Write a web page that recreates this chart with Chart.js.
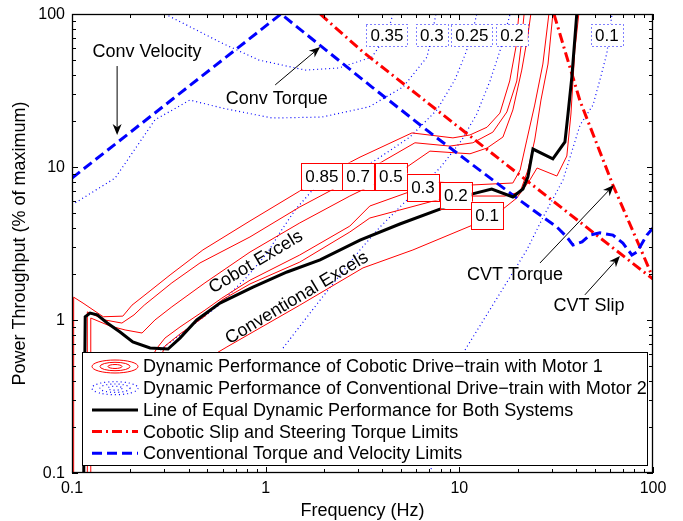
<!DOCTYPE html>
<html>
<head>
<meta charset="utf-8">
<script src="https://cdn.jsdelivr.net/npm/chart.js@4.4.1/dist/chart.umd.min.js"></script>
<style>
  html, body { margin: 0; padding: 0; background: #fff; }
  #wrap { width: 683px; height: 521px; }
</style>
</head>
<body>
<div id="wrap"><canvas id="chart" width="683" height="521"></canvas></div>
<script>
// all points are [frequency (Hz), power throughput (% of maximum)]

// line of equal dynamic performance
const equalLine = [[0.115,0.1],[0.117,1.05],[0.124,1.11],[0.135,1.08],[0.152,0.956],[0.177,0.835],
  [0.206,0.718],[0.253,0.656],[0.313,0.646],[0.361,0.762],[0.441,1.0],[0.581,1.29],[0.86,1.64],
  [1.29,2.06],[1.91,2.47],[3.07,3.33],[4.93,4.24],[7.94,5.31],[11.7,6.67],[14.7,7.18],[18.9,6.37],
  [21.3,7.18],[22.6,8.61],[24.0,13.1],[30.4,11.3],[35.1,14.6],[36.4,22.2],[38.1,38.7],[40.4,100]];

// conventional torque and velocity limits
const convLimit = [[0.1,8.47],[1.2,100],[3.54,33.3],[7.31,16.2],[11.4,10.6],[20.1,6.18],[26.1,4.85],
  [31.9,4.05],[35.9,3.49],[38.6,3.09],[43.0,3.24],[47.2,3.59],[53.2,3.71],[62.1,3.59],[69.9,3.18],
  [77.8,2.66],[82.6,2.78],[93,3.59],[100,3.99]];

// cobotic (CVT) slip and steering torque limits
const slipLimit = [[1.91,100],[3.18,56.5],[18.7,9.7],[100,1.85]];
const torqueLimit = [[30.8,100],[42.0,27.0],[62.1,7.62],[85.5,3.0],[100,1.88]];

// cobotic drive-train contours (motor 1)
const cobotLevels = ['0.85', '0.7', '0.5', '0.3', '0.2', '0.1'];
const cobot085 = [[0.102,0.1],[0.102,1.41],[0.114,1.29],[0.145,1.05],[0.183,1.06],[0.204,1.25],[0.253,1.55],
  [0.321,1.97],[0.474,2.87],[0.83,4.44],[1.5,6.97],[1.95,8.61],[3.07,11.6],[5.69,16.7],[9.27,15.5],
  [11.35,16.2],[13.9,18.2],[16.2,22.5],[18.2,36.5],[19.6,60.8],[20.3,100]];
const cobot07 = [[0.12,0.1],[0.12,1.13],[0.148,1.0],[0.181,0.955],[0.209,1.08],[0.236,1.25],[0.328,1.75],
  [0.458,2.36],[0.83,3.49],[1.5,5.48],[3.0,8.73],[4.13,11.1],[5.9,14.4],[8.94,13.7],[11.75,14.4],
  [14.9,16.9],[17.6,22.9],[19.8,36.5],[20.8,60.8],[21.6,100]];
const cobot05 = [[0.124,0.1],[0.125,1.03],[0.157,0.914],[0.188,0.861],[0.23,0.822],[0.268,1.0],[0.328,1.22],
  [0.486,1.75],[0.83,2.78],[1.5,4.31],[2.72,6.46],[4.43,8.73],[5.36,10],[7.05,12.7],[11.35,12.2],
  [13.9,13.3],[16.8,15.7],[18.9,23.6],[21.0,43.0],[22.6,72.9],[23.4,100]];
const cobot03 = [[0.253,0.548],[0.275,0.656],[0.302,0.762],[0.361,0.90],[0.486,1.16],[0.594,1.39],[0.83,1.82],
  [1.5,2.66],[2.72,4.11],[3.45,5.56],[6.49,7.40],[7.94,7.98],[11.35,7.62],[18.9,7.86],[20.6,9.55],
  [22.3,15.0],[24.5,25.4],[27.0,47.1],[29.0,100]];
const cobot02 = [[0.284,0.548],[0.302,0.676],[0.361,0.81],[0.486,1.06],[0.594,1.35],[0.83,1.72],[1.5,2.39],
  [2.72,3.76],[3.45,4.64],[8.04,6.18],[11.35,6.46],[17.2,6.46],[20.6,6.87],[22.6,9.55],[24.5,15.0],
  [26.4,27.4],[28.7,47.1],[30.4,100]];
const cobot01 = [[0.486,0.548],[0.631,0.667],[1.5,1.25],[3.18,2.19],[5.76,2.87],[11.75,4.18],[16.8,5.31],
  [19.8,6.27],[23.1,8.2],[25.2,9.85],[31.9,8.73],[35.9,11.8],[37.7,22.2],[39.5,58.2],[41.4,100]];
const cobotLabelF = [1.95, 3.0, 4.43, 6.49, 9.6, 13.9];
const cobotLabelP = [8.73, 8.73, 8.73, 7.40, 6.56, 4.85];

// conventional drive-train contours (motor 2)
const convLevels = ['0.35', '0.3', '0.25', '0.2', '0.1'];
const conv035 = [[0.302,100],[0.594,64.6],[0.923,50.0],[1.60,43.0],[2.39,44.4],[3.54,52.3],[4.23,72.9],[4.54,100]];
const conv03 = [[0.1,5.65],[0.167,8.47],[0.268,20.3],[0.406,27.4],[0.594,24.3],[1.08,20.9],[1.95,21.2],
  [3.41,24.7],[5.12,33.3],[6.81,52.3],[7.22,72.9],[7.57,100]];
const conv025 = [[0.285,0.637],[0.441,0.97],[0.561,1.22],[0.80,1.91],[1.02,2.74],[1.19,3.76],[1.42,5.24],
  [1.84,7.62],[2.57,9.27],[3.58,10.8],[5.56,15.7],[7.66,23.6],[9.48,37.1],[10.7,54.0],[11.6,72.9],[12.3,100]];
const conv02 = [[1.23,0.656],[1.91,1.35],[3.07,2.87],[3.89,4.05],[5.36,6.08],[7.94,9.85],[10.3,15.0],
  [12.3,22.2],[14.4,36.5],[16.2,57.3],[18.3,100]];
const conv01 = [[7.05,0.1],[10.7,0.637],[22.3,2.87],[27.1,4.71],[34.3,8.22],[42.0,18.8],[49.0,25.4],
  [53.2,37.1],[57.8,55.6],[61.4,100]];
const convLabelF = [4.23, 7.22, 11.6, 18.7, 57.8];
const convLabelP = [72.9, 72.9, 72.9, 72.9, 72.9];

// axis ticks
const decadeTicks = [0.1, 1, 10, 100];
const decadeLabels = ['0.1', '1', '10', '100'];

const FONT = '"Liberation Sans", Arial, Helvetica, sans-serif';

function series(points, color, width, dash, order) {
    return {
        data: points.map(function(p) { return { x: p[0], y: p[1] }; }),
        showLine: true,
        borderColor: color,
        borderWidth: width,
        borderDash: dash,
        pointRadius: 0,
        fill: false,
        tension: 0,
        order: order,
        clip: 0
    };
}

var datasets = [
    series(equalLine, '#000', 3, [], 0),
    series(convLimit, '#0000ff', 3, [10, 5], 1),
    series(slipLimit, '#ff0000', 3, [10, 4, 2, 4], 2),
    series(torqueLimit, '#ff0000', 3, [10, 4, 2, 4], 2)
];
[cobot085, cobot07, cobot05, cobot03, cobot02, cobot01].forEach(function(c) {
    datasets.push(series(c, '#ff0000', 1, [], 3));
});
[conv035, conv03, conv025, conv02, conv01].forEach(function(c) {
    datasets.push(series(c, '#0000ff', 1.2, [1, 3], 4));
});

function arrow(ctx, x1, y1, x2, y2) {
    var a = Math.atan2(y2 - y1, x2 - x1);
    var len = 11, w = 4.5;
    var bx = x2 - len * Math.cos(a), by = y2 - len * Math.sin(a);
    var nx = x2 - len * 0.7 * Math.cos(a), ny = y2 - len * 0.7 * Math.sin(a);
    ctx.strokeStyle = '#000';
    ctx.lineWidth = 1;
    ctx.beginPath();
    ctx.moveTo(x1, y1);
    ctx.lineTo(nx, ny);
    ctx.stroke();
    ctx.fillStyle = '#000';
    ctx.beginPath();
    ctx.moveTo(x2, y2);
    ctx.lineTo(bx + w * Math.sin(a), by - w * Math.cos(a));
    ctx.lineTo(nx, ny);
    ctx.lineTo(bx - w * Math.sin(a), by + w * Math.cos(a));
    ctx.closePath();
    ctx.fill();
}

function labelBox(ctx, text, cx, cy, dotted) {
    ctx.font = '17px ' + FONT;
    var w = ctx.measureText(text).width + 8;
    var h = dotted ? 22 : 27;
    ctx.fillStyle = '#fff';
    ctx.fillRect(cx - w / 2, cy - h / 2, w, h);
    ctx.lineWidth = 1;
    if (dotted) {
        ctx.strokeStyle = '#0000ff';
        ctx.setLineDash([1, 3]);
    } else {
        ctx.strokeStyle = '#ff0000';
        ctx.setLineDash([]);
    }
    ctx.strokeRect(Math.round(cx - w / 2) + 0.5, Math.round(cy - h / 2) + 0.5, Math.round(w), h);
    ctx.setLineDash([]);
    ctx.fillStyle = '#000';
    ctx.textAlign = 'center';
    ctx.textBaseline = 'middle';
    ctx.fillText(text, cx, cy + 1);
}

const overlay = {
    id: 'overlay',
    afterDatasetsDraw: function(chart) {
        var ctx = chart.ctx;
        var area = chart.chartArea;
        var xs = chart.scales.x, ys = chart.scales.y;
        var X = function(v) { return xs.getPixelForValue(v); };
        var Y = function(v) { return ys.getPixelForValue(v); };
        ctx.save();

        // contour labels
        for (var i = 0; i < cobotLevels.length; i++) {
            labelBox(ctx, cobotLevels[i], X(cobotLabelF[i]), Y(cobotLabelP[i]), false);
        }
        for (var j = 0; j < convLevels.length; j++) {
            labelBox(ctx, convLevels[j], X(convLabelF[j]), Y(convLabelP[j]), true);
        }

        // text annotations
        ctx.fillStyle = '#000';
        ctx.font = '18px ' + FONT;
        ctx.textAlign = 'center';
        ctx.textBaseline = 'middle';
        ctx.fillText('Conv Velocity', X(0.244), Y(56.5));
        ctx.fillText('Conv Torque', X(1.14), Y(27.8));
        ctx.fillText('CVT Torque', X(19.4), Y(1.97));
        ctx.fillText('CVT Slip', X(46.7), Y(1.24));
        arrow(ctx, X(0.171), Y(45.7), X(0.171), Y(16.2));
        arrow(ctx, X(1.12), Y(34.4), X(1.91), Y(60.8));
        arrow(ctx, X(26.1), Y(2.36), X(62.8), Y(7.62));
        arrow(ctx, X(44.5), Y(1.46), X(67.5), Y(2.62));

        ctx.save();
        ctx.translate(X(0.891), Y(2.39));
        ctx.rotate(-31 * Math.PI / 180);
        ctx.fillText('Cobot Excels', 0, 0);
        ctx.restore();
        ctx.save();
        ctx.translate(X(1.45), Y(1.39));
        ctx.rotate(-31 * Math.PI / 180);
        ctx.fillText('Conventional Excels', 0, 0);
        ctx.restore();

        // legend
        var lx = area.left + 10, ly = 352, lw = area.right - 6 - lx, lh = 113;
        ctx.fillStyle = '#fff';
        ctx.fillRect(lx, ly, lw, lh);
        ctx.strokeStyle = '#000';
        ctx.lineWidth = 1;
        ctx.strokeRect(lx + 0.5, ly + 0.5, lw, lh);
        var rows = ['Dynamic Performance of Cobotic Drive\u2212train with Motor 1',
            'Dynamic Performance of Conventional Drive\u2212train with Motor 2',
            'Line of Equal Dynamic Performance for Both Systems',
            'Cobotic Slip and Steering Torque Limits',
            'Conventional Torque and Velocity Limits'];
        var ix0 = lx + 10, ix1 = lx + 56, icx = (ix0 + ix1) / 2;
        ctx.font = '18px ' + FONT;
        ctx.textAlign = 'left';
        ctx.textBaseline = 'middle';
        for (var r = 0; r < rows.length; r++) {
            var ry = ly + 14.5 + r * 21.7;
            ctx.fillStyle = '#000';
            ctx.fillText(rows[r], lx + 61, ry + 1);
            if (r === 0 || r === 1) {
                ctx.strokeStyle = r === 0 ? '#ff0000' : '#0000ff';
                ctx.lineWidth = r === 0 ? 1 : 1.2;
                ctx.setLineDash(r === 0 ? [] : [1, 3]);
                [[23, 6.5], [15, 4.2], [7, 2]].forEach(function(e) {
                    ctx.beginPath();
                    ctx.ellipse(icx, ry, e[0], e[1], 0, 0, Math.PI * 2);
                    ctx.stroke();
                });
                ctx.setLineDash([]);
            } else {
                ctx.lineWidth = 3;
                ctx.strokeStyle = r === 2 ? '#000' : (r === 3 ? '#ff0000' : '#0000ff');
                ctx.setLineDash(r === 2 ? [] : (r === 3 ? [10, 4, 2, 4] : [10, 5]));
                ctx.beginPath();
                ctx.moveTo(ix0, ry);
                ctx.lineTo(ix1, ry);
                ctx.stroke();
                ctx.setLineDash([]);
            }
        }

        // axes box and ticks
        ctx.strokeStyle = '#000';
        ctx.lineWidth = 1.3;
        ctx.strokeRect(area.left + 0.5, area.top + 0.5, area.right - area.left - 1, area.bottom - area.top - 1);
        ctx.lineWidth = 1;
        ctx.beginPath();
        for (var d = 0; d < decadeTicks.length; d++) {
            for (var k = 1; k <= 9; k++) {
                var v = decadeTicks[d] * k;
                if (v > 100.0001 || (d === decadeTicks.length - 1 && k > 1)) continue;
                var len = k === 1 ? 6 : 4;
                var px = Math.round(X(v)) + 0.5, py = Math.round(Y(v)) + 0.5;
                ctx.moveTo(px, area.bottom); ctx.lineTo(px, area.bottom - len);
                ctx.moveTo(px, area.top); ctx.lineTo(px, area.top + len);
                ctx.moveTo(area.left, py); ctx.lineTo(area.left + len, py);
                ctx.moveTo(area.right, py); ctx.lineTo(area.right - len, py);
            }
        }
        ctx.stroke();

        ctx.fillStyle = '#000';
        ctx.font = '16px ' + FONT;
        ctx.textAlign = 'center';
        ctx.textBaseline = 'alphabetic';
        decadeTicks.forEach(function(v, n) {
            ctx.fillText(decadeLabels[n], X(v), area.bottom + 20);
        });
        ctx.textAlign = 'right';
        ctx.textBaseline = 'middle';
        decadeTicks.forEach(function(v, n) {
            ctx.fillText(decadeLabels[n], area.left - 7, Y(v) + 1);
        });

        ctx.font = '18px ' + FONT;
        ctx.textAlign = 'center';
        ctx.textBaseline = 'alphabetic';
        ctx.fillText('Frequency (Hz)', (area.left + area.right) / 2, area.bottom + 43);
        ctx.save();
        ctx.translate(25, (area.top + area.bottom) / 2);
        ctx.rotate(-Math.PI / 2);
        ctx.fillText('Power Throughput (% of maximum)', 0, 0);
        ctx.restore();

        ctx.restore();
    }
};

new Chart(document.getElementById('chart'), {
    type: 'scatter',
    data: { datasets: datasets },
    options: {
        responsive: false,
        animation: false,
        layout: { padding: { left: 72, right: 30, top: 14, bottom: 48 } },
        plugins: {
            legend: { display: false },
            tooltip: { enabled: false }
        },
        scales: {
            x: { type: 'logarithmic', min: 0.1, max: 100, display: false },
            y: { type: 'logarithmic', min: 0.1, max: 100, display: false }
        }
    },
    plugins: [overlay]
});
</script>
</body>
</html>
